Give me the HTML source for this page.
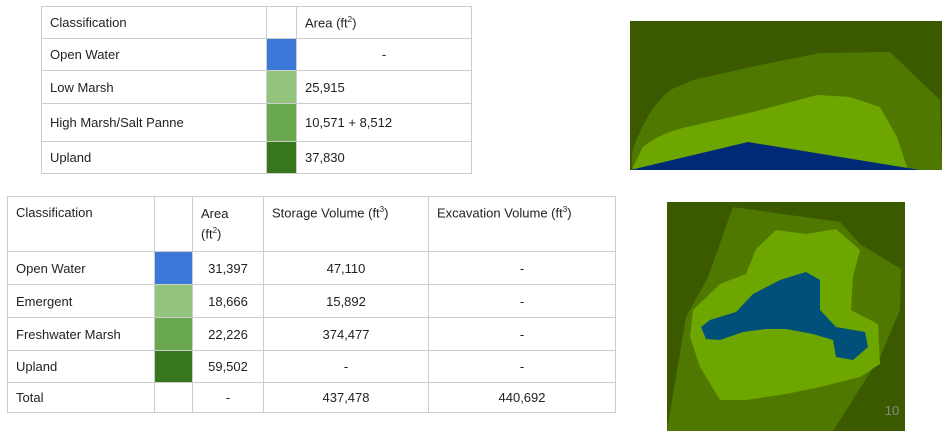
<!DOCTYPE html>
<html><head><meta charset="utf-8"><style>
body{margin:0;width:952px;height:436px;background:#fff;position:relative;overflow:hidden;font-family:"Liberation Sans",Arial,sans-serif;font-size:13px;color:#222}
.c{position:absolute;box-sizing:border-box;border:1px solid #ccc;padding:0 8px;display:flex;align-items:center}
.tc{justify-content:center}
.top{align-items:flex-start;padding-top:8px}
sup{font-size:8px}
</style></head><body>
<div>
<div class="c" style="left:41px;top:6px;width:226px;height:33px">Classification</div>
<div class="c" style="left:266px;top:6px;width:31px;height:33px"></div>
<div class="c" style="left:296px;top:6px;width:176px;height:33px"><span>Area (ft<sup>2</sup>)</span></div>
<div class="c" style="left:41px;top:38px;width:226px;height:33px">Open Water</div>
<div class="c" style="left:266px;top:38px;width:31px;height:33px;background:#3c78d8"></div>
<div class="c tc" style="left:296px;top:38px;width:176px;height:33px">-</div>
<div class="c" style="left:41px;top:70px;width:226px;height:34px">Low Marsh</div>
<div class="c" style="left:266px;top:70px;width:31px;height:34px;background:#93c47d"></div>
<div class="c" style="left:296px;top:70px;width:176px;height:34px">25,915</div>
<div class="c" style="left:41px;top:103px;width:226px;height:39px">High Marsh/Salt Panne</div>
<div class="c" style="left:266px;top:103px;width:31px;height:39px;background:#6aa84f"></div>
<div class="c" style="left:296px;top:103px;width:176px;height:39px">10,571 + 8,512</div>
<div class="c" style="left:41px;top:141px;width:226px;height:33px">Upland</div>
<div class="c" style="left:266px;top:141px;width:31px;height:33px;background:#38761d"></div>
<div class="c" style="left:296px;top:141px;width:176px;height:33px">37,830</div>
</div>

<div>
<div class="c top" style="left:7px;top:196px;width:148px;height:56px">Classification</div>
<div class="c" style="left:154px;top:196px;width:39px;height:56px"></div>
<div class="c top" style="left:192px;top:196px;width:72px;height:56px;padding-top:8px;line-height:17px;display:block">Area<br>(ft<sup>2</sup>)</div>
<div class="c top" style="left:263px;top:196px;width:166px;height:56px"><span>Storage Volume (ft<sup>3</sup>)</span></div>
<div class="c top" style="left:428px;top:196px;width:188px;height:56px"><span>Excavation Volume (ft<sup>3</sup>)</span></div>

<div class="c" style="left:7px;top:251px;width:148px;height:34px">Open Water</div>
<div class="c" style="left:154px;top:251px;width:39px;height:34px;background:#3c78d8"></div>
<div class="c tc" style="left:192px;top:251px;width:72px;height:34px">31,397</div>
<div class="c tc" style="left:263px;top:251px;width:166px;height:34px">47,110</div>
<div class="c tc" style="left:428px;top:251px;width:188px;height:34px">-</div>

<div class="c" style="left:7px;top:284px;width:148px;height:34px">Emergent</div>
<div class="c" style="left:154px;top:284px;width:39px;height:34px;background:#93c47d"></div>
<div class="c tc" style="left:192px;top:284px;width:72px;height:34px">18,666</div>
<div class="c tc" style="left:263px;top:284px;width:166px;height:34px">15,892</div>
<div class="c tc" style="left:428px;top:284px;width:188px;height:34px">-</div>

<div class="c" style="left:7px;top:317px;width:148px;height:34px">Freshwater Marsh</div>
<div class="c" style="left:154px;top:317px;width:39px;height:34px;background:#6aa84f"></div>
<div class="c tc" style="left:192px;top:317px;width:72px;height:34px">22,226</div>
<div class="c tc" style="left:263px;top:317px;width:166px;height:34px">374,477</div>
<div class="c tc" style="left:428px;top:317px;width:188px;height:34px">-</div>

<div class="c" style="left:7px;top:350px;width:148px;height:33px">Upland</div>
<div class="c" style="left:154px;top:350px;width:39px;height:33px;background:#38761d"></div>
<div class="c tc" style="left:192px;top:350px;width:72px;height:33px">59,502</div>
<div class="c tc" style="left:263px;top:350px;width:166px;height:33px">-</div>
<div class="c tc" style="left:428px;top:350px;width:188px;height:33px">-</div>

<div class="c" style="left:7px;top:382px;width:148px;height:31px">Total</div>
<div class="c" style="left:154px;top:382px;width:39px;height:31px"></div>
<div class="c tc" style="left:192px;top:382px;width:72px;height:31px">-</div>
<div class="c tc" style="left:263px;top:382px;width:166px;height:31px">437,478</div>
<div class="c tc" style="left:428px;top:382px;width:188px;height:31px">440,692</div>
</div>

<svg style="position:absolute;left:630px;top:21px" width="312" height="149">
<rect width="312" height="149" fill="#3b5a00"/>
<path d="M2,149 L2,132 Q15,90 40,69 L63,59 L130,44 L190,32 L260,31 L310,79 L312,149 Z" fill="#4e7800"/>
<path d="M3,146 L13,126 Q30,112 57,106 L123,91 L187,74 L220,76 L250,86 L267,116 L278,149 L3,149 Z" fill="#6ea600"/>
<path d="M0,149 L118,121 L290,149 Z" fill="#002a78"/>
</svg>

<svg style="position:absolute;left:667px;top:202px" width="238" height="229">
<rect width="238" height="229" fill="#3b5a00"/>
<path d="M66,5 L173,20 L193,42 L234,67 L233,108 L213,155 L166,229 L0,229 L19,115 L41,75 Z" fill="#4e7800"/>
<path d="M89,47 L109,28 L139,32 L169,27 L193,48 L186,75 L184,108 L211,122 L213,162 L193,175 L153,185 L119,192 L79,198 L53,198 L33,165 L23,135 L26,108 L53,82 L79,72 Z" fill="#6ea600"/>
<path d="M34,125 L43,118 L69,110 L86,92 L113,78 L139,70 L153,78 L153,95 L153,108 L169,125 L198,130 L201,145 L186,158 L169,155 L166,138 L146,132 L119,127 L99,127 L76,130 L53,138 L39,137 Z" fill="#00507a"/>
<text x="225" y="213" font-size="13" fill="#888" text-anchor="middle">10</text>
</svg>
</body></html>
